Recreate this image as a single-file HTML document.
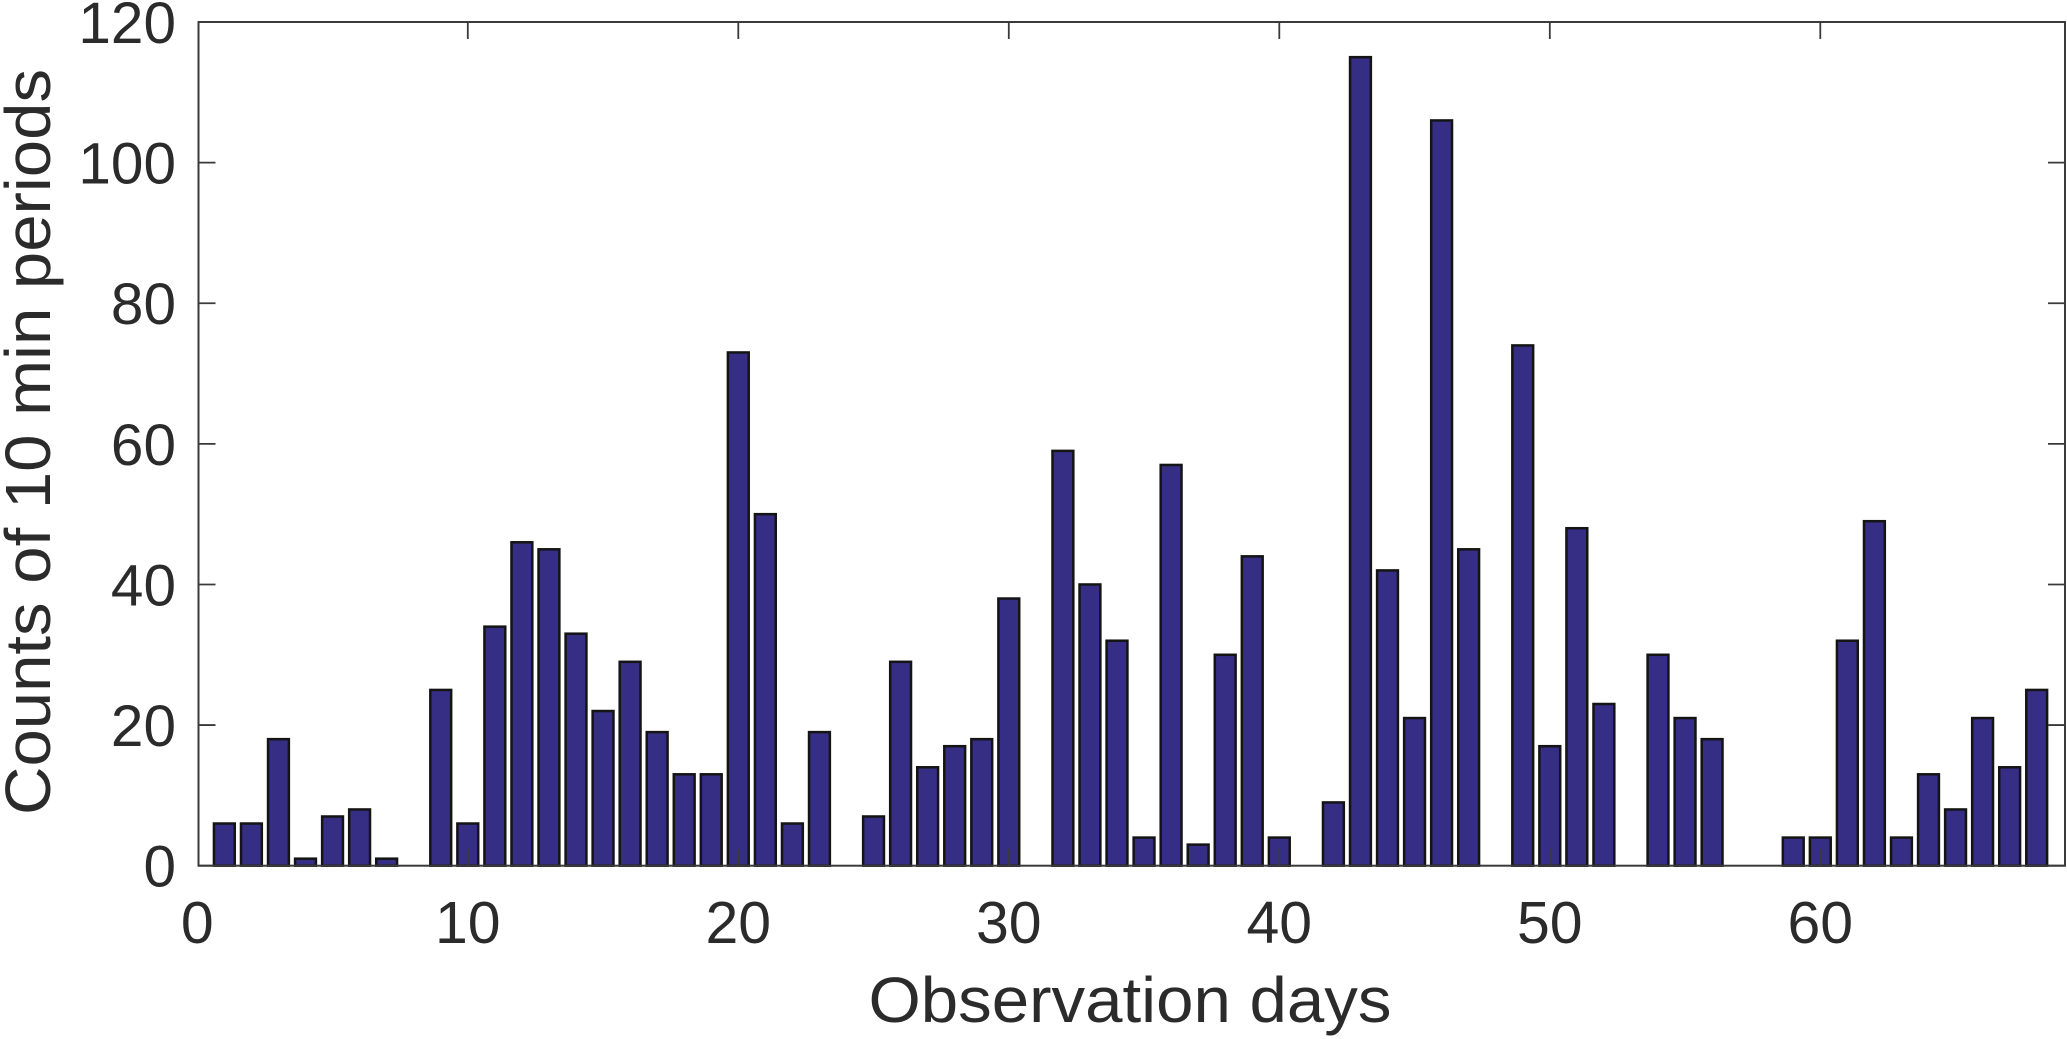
<!DOCTYPE html>
<html lang="en">
<head>
<meta charset="utf-8">
<title>Counts of 10 min periods per observation day</title>
<style>
  html, body { margin: 0; padding: 0; background: #fff; }
  svg { display: block; }
  text { font-family: "Liberation Sans", Arial, sans-serif; fill: #2b2b2b; }
</style>
</head>
<body>
<svg id="chart" xmlns="http://www.w3.org/2000/svg" width="2067" height="1039" viewBox="0 0 2067 1039"></svg>
<script>
const days = [1,2,3,4,5,6,7,8,9,10,11,12,13,14,15,16,17,18,19,20,21,22,23,24,25,26,27,28,29,30,31,32,33,34,35,36,37,38,39,40,41,42,43,44,45,46,47,48,49,50,51,52,53,54,55,56,57,58,59,60,61,62,63,64,65,66,67,68];
const counts = [6,6,18,1,7,8,1,0,25,6,34,46,45,33,22,29,19,13,13,73,50,6,19,0,7,29,14,17,18,38,0,59,40,32,4,57,3,30,44,4,0,9,115,42,21,106,45,0,74,17,48,23,0,30,21,18,0,0,4,4,32,49,4,13,8,21,14,25];
const xTicks = [0,10,20,30,40,50,60];
const yTicks = [0,20,40,60,80,100,120];
const xDomain = [0,69];
const yDomain = [0,120];
const xAxisTitle = "Observation days";
const yAxisTitle = "Counts of 10 min periods";

const frameLeft = 198.5, frameRight = 2065;
const scaleLeft = 197.3, scaleRight = 2063.75, plotTop = 22, plotBottom = 865.7;
const barFraction = 0.77, tickLength = 17;
const NS = "http://www.w3.org/2000/svg";
const svg = document.getElementById("chart");

function xScale(v) { return scaleLeft + (v - xDomain[0]) / (xDomain[1] - xDomain[0]) * (scaleRight - scaleLeft); }
function yScale(v) { return plotBottom - (v - yDomain[0]) / (yDomain[1] - yDomain[0]) * (plotBottom - plotTop); }
function make(tag, attrs, parent) {
  const el = document.createElementNS(NS, tag);
  for (const k in attrs) el.setAttribute(k, attrs[k]);
  parent.appendChild(el);
  return el;
}

const background = make("rect", {x:0, y:0, width:2067, height:1039, fill:"#ffffff"}, svg);



const barsGroup = make("g", {}, svg);


const unit = xScale(1) - xScale(0);
days.forEach(function (d, i) {
  const top = yScale(counts[i]);
  const bar = make("rect", {
    x: xScale(d) - unit * barFraction / 2,
    y: top,
    width: unit * barFraction,
    height: plotBottom - top,
    fill: "#362d85",
    stroke: "#141414",
    "stroke-width": 2.5
  }, barsGroup);
  
  
});

const axes = make("g", {stroke:"#3a3a3a", "stroke-width":1.8, fill:"none"}, svg);


const frame = make("rect", {x:frameLeft, y:plotTop, width:frameRight-frameLeft, height:plotBottom-plotTop, "stroke-width":2}, axes);



xTicks.forEach(function (t) {
  const x = xScale(t);
  const tickX = Math.max(x, frameLeft);
  const bottomTick = make("line", {x1:tickX, x2:tickX, y1:plotBottom, y2:plotBottom-tickLength}, axes);
  
  
  const topTick = make("line", {x1:tickX, x2:tickX, y1:plotTop, y2:plotTop+tickLength}, axes);
  
  
  const label = make("text", {x:x, y:943, "text-anchor":"middle", "font-size":59}, svg);
  label.textContent = t;
  
  
});

yTicks.forEach(function (t) {
  const y = yScale(t);
  const leftTick = make("line", {x1:frameLeft, x2:frameLeft+tickLength, y1:y, y2:y}, axes);
  
  
  const rightTick = make("line", {x1:frameRight, x2:frameRight-tickLength, y1:y, y2:y}, axes);
  
  
  const label = make("text", {x:176, y:y+21, "text-anchor":"end", "font-size":58.5}, svg);
  label.textContent = t;
  
  
});

const xTitle = make("text", {x:1130, y:1022, "text-anchor":"middle", "font-size":64, textLength:523, lengthAdjust:"spacingAndGlyphs"}, svg);
xTitle.textContent = xAxisTitle;



const yTitle = make("text", {x:0, y:0, "text-anchor":"middle", "font-size":64, textLength:746, lengthAdjust:"spacingAndGlyphs", transform:"translate(50 442) rotate(-90)"}, svg);
yTitle.textContent = yAxisTitle;


</script>
</body>
</html>
